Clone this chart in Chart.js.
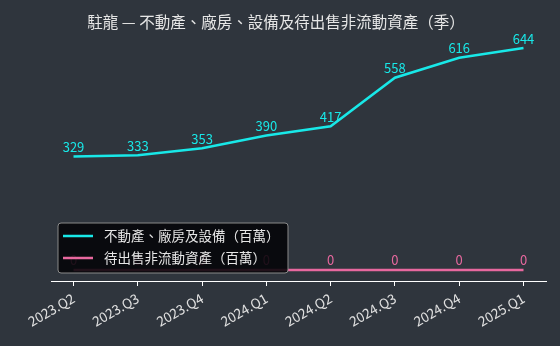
<!DOCTYPE html>
<html>
<head>
<meta charset="utf-8">
<script src="https://cdn.jsdelivr.net/npm/chart.js@4"></script>
<style>
  html, body { margin: 0; padding: 0; background: #2f353d; }
  #wrap { width: 560px; height: 346px; position: relative; }
</style>
</head>
<body>
<div id="wrap"><canvas id="chart"></canvas></div>
<script>
const quarters = ["2023.Q2", "2023.Q3", "2023.Q4", "2024.Q1", "2024.Q2", "2024.Q3", "2024.Q4", "2025.Q1"];
const ppeValues = [329, 333, 353, 390, 417, 558, 616, 644];
const heldForSaleValues = [0, 0, 0, 0, 0, 0, 0, 0];
const seriesNames = ["不動產、廠房及設備（百萬）", "待出售非流動資產（百萬）"];
const titleText = "駐龍 — 不動產、廠房、設備及待出售非流動資產（季）";

const FONT = '"Noto Sans CJK TC", "Noto Sans", sans-serif';
const CYAN = "#18e8e8";
const PINK = "#e8689f";

const toPoints = (vals) => vals.map((v, i) => ({ x: i, y: v }));

// value labels above every point
const valueLabels = {
  id: "valueLabels",
  afterDatasetsDraw(chart) {
    const ctx = chart.ctx;
    ctx.save();
    ctx.font = "13px " + FONT;
    ctx.textAlign = "center";
    ctx.textBaseline = "bottom";
    chart.data.datasets.forEach((ds, i) => {
      const meta = chart.getDatasetMeta(i);
      ctx.fillStyle = ds.borderColor;
      meta.data.forEach((pt, j) => {
        ctx.fillText(String(ds.data[j].y), pt.x, pt.y - 3);
      });
    });
    ctx.restore();
  },
};

// title + legend box drawn over the plot
const overlay = {
  id: "overlay",
  afterDraw(chart) {
    const ctx = chart.ctx;
    ctx.save();
    ctx.fillStyle = "#e6e6e6";
    ctx.font = "15.5px " + FONT;
    ctx.textAlign = "center";
    ctx.textBaseline = "middle";
    ctx.fillText(titleText, 276, 22);

    const x = 58, y = 223, w = 230, h = 50;
    ctx.beginPath();
    ctx.roundRect(x, y, w, h, 3);
    ctx.fillStyle = "rgba(5,5,8,0.88)";
    ctx.fill();
    ctx.strokeStyle = "#8a8a8a";
    ctx.lineWidth = 1;
    ctx.stroke();

    ctx.font = "13.5px " + FONT;
    ctx.textAlign = "left";
    chart.data.datasets.forEach((ds, i) => {
      const ry = y + 13 + i * 22;
      ctx.strokeStyle = ds.borderColor;
      ctx.lineWidth = 2.5;
      ctx.beginPath();
      ctx.moveTo(x + 5, ry);
      ctx.lineTo(x + 35, ry);
      ctx.stroke();
      ctx.fillStyle = "#e6e6e6";
      ctx.fillText(ds.label, x + 46, ry);
    });
    ctx.restore();
  },
};

new Chart(document.getElementById("chart"), {
  type: "line",
  data: {
    datasets: [
      {
        label: seriesNames[0],
        data: toPoints(ppeValues),
        borderColor: CYAN,
        borderWidth: 2.5,
        pointRadius: 0,
        tension: 0,
      },
      {
        label: seriesNames[1],
        data: toPoints(heldForSaleValues),
        borderColor: PINK,
        borderWidth: 2.5,
        pointRadius: 0,
        tension: 0,
      },
    ],
  },
  options: {
    responsive: true,
    maintainAspectRatio: false,
    animation: false,
    layout: { padding: { left: 51, right: 14, top: 37, bottom: 0 } },
    plugins: {
      legend: { display: false },
      title: { display: false },
      tooltip: { enabled: false },
    },
    scales: {
      x: {
        type: "linear",
        min: -0.35,
        max: 7.35,
        afterBuildTicks: (scale) => {
          scale.ticks = quarters.map((_, i) => ({ value: i }));
        },
        afterFit: (scale) => { scale.height = 65; },
        ticks: {
          callback: (v) => quarters[v],
          color: "#e0e0e0",
          font: { family: FONT, size: 13.5 },
          minRotation: 30,
          maxRotation: 30,
          padding: 4,
        },
        grid: {
          display: true,
          drawOnChartArea: false,
          drawTicks: true,
          tickLength: 5,
          color: "#ffffff",
        },
        border: { display: true, color: "#ffffff", width: 1 },
      },
      y: {
        display: false,
        min: -32.2,
        max: 676.2,
      },
    },
  },
  plugins: [valueLabels, overlay],
});
</script>
</body>
</html>
